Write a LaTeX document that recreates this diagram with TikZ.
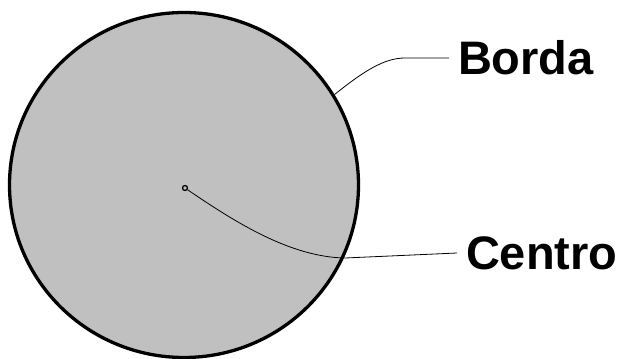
\documentclass[tikz,border=0pt]{standalone}
\usepackage{fontspec}
\setmainfont{Liberation Sans}
\usetikzlibrary{shapes.geometric}
\definecolor{discgray}{RGB}{192,192,192}

\begin{document}
\begin{tikzpicture}[
            x=1pt, y=-1pt, % pixel like units
            disc/.style = {draw, ellipse, fill=discgray, line width=3.3pt,
              inner sep=0pt, minimum width=349pt, minimum height=345pt},
            dot/.style = {draw, circle, fill=discgray, line width=1.3pt,
              inner sep=0pt, minimum size=5pt},
            label/.style = {anchor=west, inner sep=0pt, outer xsep=9pt,
              font=\bfseries\fontsize{47}{50}\selectfont},
            lead/.style = {line width=0.8pt}
            ]
            \useasboundingbox (0,0) rectangle (622,359);

            \node[disc] (disco) at (184,185) {};
            \node[dot] (centro) at (185,188) {};

            \node[label] (borda) at (449,58) {Borda};
            \node[label] (lcentro) at (457,253) {Centro};

            % leader lines
            \draw[lead] (disco.31) .. controls (365,70) and (385,58) .. (405,58)
              -- (borda.west);
            \draw[lead] (centro) .. controls (235,222) and (290,257) .. (345,258)
              -- (lcentro.west);
        \end{tikzpicture}
\end{document}
